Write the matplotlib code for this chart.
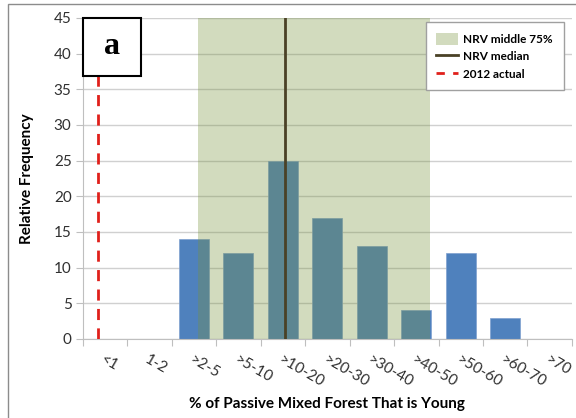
import matplotlib

matplotlib.use("Agg")
import matplotlib.pyplot as plt
from matplotlib.lines import Line2D
from matplotlib.patches import Patch, Rectangle
import numpy as np

plt.rcParams["font.family"] = ["Lato", "DejaVu Sans"]

# --- data ---
categories = ["<1", "1-2", ">2-5", ">5-10", ">10-20", ">20-30",
              ">30-40", ">40-50", ">50-60", ">60-70", ">70"]
frequency = [0, 0, 14, 12, 25, 17, 13, 4, 12, 3, 0]
nrv_low, nrv_high = 2.09, 7.31     # middle 75% in category units
nrv_median = 4.05
actual_2012 = -0.15

BLUE = "#4F81BD"
OLIVE = "#77933C"
MEDIAN = "#4A4126"
RED = "#E0201B"

fig = plt.figure(figsize=(5.76, 4.18), dpi=100)
ax = fig.add_axes([0.1436, 0.189, 0.8494, 0.768])

x = np.arange(len(categories))
ax.bar(x, frequency, width=0.67, color=BLUE, edgecolor="#7FA0CF",
       linewidth=0.5, zorder=2)

# NRV band over the bars, median and 2012 lines
ax.axvspan(nrv_low, nrv_high, color=OLIVE, alpha=0.33, lw=0, zorder=3)
ax.axvline(nrv_median, color=MEDIAN, lw=2, zorder=4)
ax.axvline(actual_2012, color=RED, lw=2, dashes=(4, 3), zorder=4)

ax.set_xlim(-0.5, len(categories) - 0.5)
ax.set_ylim(0, 45)
ax.set_yticks(range(0, 46, 5))
ax.yaxis.grid(True, color="#D0D0D0", lw=1, zorder=0)
ax.set_axisbelow(True)

for side in ("top", "right"):
    ax.spines[side].set_visible(False)
for side in ("left", "bottom"):
    ax.spines[side].set_color("#BFBFBF")

ax.set_xticks(np.arange(len(categories) + 1) - 0.5)
ax.set_xticklabels([])
ax.tick_params(axis="x", length=5, color="#BFBFBF")
ax.tick_params(axis="y", length=5, color="#BFBFBF", labelsize=11,
               labelcolor="#303030", pad=3)

for i, lab in enumerate(categories):
    ax.annotate(lab, (i - 0.08, 0), xycoords="data",
                xytext=(0, -14), textcoords="offset points",
                rotation=-30, rotation_mode="anchor",
                ha="left", va="center", fontsize=11, color="#303030")

ax.set_ylabel("Relative Frequency", fontsize=11, fontweight="bold", labelpad=14)
ax.set_xlabel("% of Passive Mixed Forest That is Young", fontsize=11,
              fontweight="bold", labelpad=33)

# panel letter box
ax.add_patch(Rectangle((0, 1 - 0.1807), 0.1186, 0.1807, transform=ax.transAxes,
                       fc="white", ec="black", lw=1.5, zorder=6, clip_on=False))
ax.text(0.059, 0.91, "a", transform=ax.transAxes, ha="center", va="center",
        fontsize=23, fontweight="bold", family="Liberation Serif", zorder=7)

handles = [
    Patch(facecolor=OLIVE, alpha=0.33, edgecolor="none"),
    Line2D([], [], color=MEDIAN, lw=2),
    Line2D([], [], color=RED, lw=2, dashes=(3, 3)),
]
labels = ["NRV middle 75%", "NRV median", "2012 actual"]
leg = ax.legend(handles, labels, loc="upper right",
                bbox_to_anchor=(0.988, 0.994), fancybox=False,
                edgecolor="#A0A0A0", framealpha=1,
                prop=dict(size=8.5, weight="bold"), handlelength=1.8,
                handleheight=1.2, borderpad=0.9, labelspacing=0.45,
                handletextpad=0.5, borderaxespad=0.2)
leg.set_zorder(8)

# outer chart frame
fig.patches.append(Rectangle((8 / 576, -0.1), 1.1, 1.1 - 4 / 418,
                             transform=fig.transFigure, fill=False,
                             ec="#8C8C8C", lw=1))

fig.savefig("out.png", dpi=100)
